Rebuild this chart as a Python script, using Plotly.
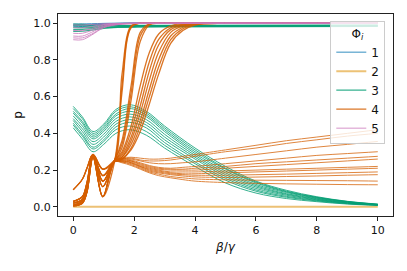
import plotly.graph_objects as go

# ---------------- data ----------------
categories = ["1", "2", "3", "4", "5"]
colors = {"1": "#0173b2", "2": "#de8f05", "3": "#029e73", "4": "#d55e00", "5": "#cc78bc"}

x_ticks = [0, 2, 4, 6, 8, 10]
y_ticks = [0.0, 0.2, 0.4, 0.6, 0.8, 1.0]

# top families (Phi 1, Phi 5, upper Phi 3)
x_top = [0, 0.3, 0.6, 1.0, 1.5, 2.0, 3.0, 10]
p1_lines = [
    [0.995, 0.996, 0.997, 0.999, 1.0, 1.0, 1.0, 1.0],
    [0.988, 0.989, 0.992, 0.996, 0.999, 1.0, 1.0, 1.0],
    [0.98, 0.982, 0.987, 0.994, 0.998, 1.0, 1.0, 1.0],
]
p5_lines = [
    [0.91, 0.91, 0.935, 0.975, 0.993, 0.998, 1.0, 1.0],
    [0.92, 0.92, 0.94, 0.978, 0.994, 0.998, 1.0, 1.0],
    [0.93, 0.93, 0.95, 0.982, 0.995, 0.999, 1.0, 1.0],
    [0.945, 0.945, 0.96, 0.985, 0.996, 0.999, 1.0, 1.0],
    [0.96, 0.96, 0.97, 0.99, 0.997, 1.0, 1.0, 1.0],
    [0.975, 0.975, 0.982, 0.993, 0.998, 1.0, 1.0, 1.0],
    [0.99, 0.99, 0.993, 0.997, 0.999, 1.0, 1.0, 1.0],
]
p3_top_lines = [
    [0.995, 0.993, 0.99, 0.988, 0.988, 0.988, 0.988, 0.99],
    [0.985, 0.985, 0.984, 0.984, 0.985, 0.986, 0.987, 0.988],
    [0.975, 0.976, 0.977, 0.98, 0.982, 0.983, 0.984, 0.986],
    [0.965, 0.966, 0.97, 0.976, 0.979, 0.98, 0.982, 0.984],
    [0.955, 0.956, 0.962, 0.972, 0.977, 0.979, 0.98, 0.982],
]

# Phi 2 (flat at zero)
x_p2 = [0, 10]
p2_line = [0.0, 0.0]

# lower Phi 3 family
x_green = [0, 0.3, 0.65, 1.0, 1.4, 1.85, 2.4, 3.0, 4.0, 5.0, 6.0, 7.0, 8.0, 9.0, 10.0]
p3_low_lines = [
    [0.547, 0.49, 0.41, 0.45, 0.53, 0.556, 0.52, 0.44, 0.32, 0.22, 0.14, 0.09, 0.055, 0.03, 0.015],
    [0.535, 0.48, 0.40, 0.44, 0.52, 0.545, 0.51, 0.43, 0.31, 0.21, 0.135, 0.085, 0.052, 0.029, 0.014],
    [0.52, 0.465, 0.39, 0.43, 0.505, 0.535, 0.50, 0.42, 0.30, 0.205, 0.13, 0.082, 0.05, 0.028, 0.013],
    [0.51, 0.455, 0.38, 0.42, 0.495, 0.52, 0.49, 0.41, 0.29, 0.195, 0.122, 0.078, 0.047, 0.026, 0.012],
    [0.495, 0.44, 0.37, 0.41, 0.48, 0.505, 0.475, 0.395, 0.28, 0.185, 0.115, 0.072, 0.044, 0.024, 0.011],
    [0.48, 0.425, 0.355, 0.395, 0.465, 0.49, 0.46, 0.38, 0.27, 0.175, 0.108, 0.068, 0.041, 0.022, 0.011],
    [0.47, 0.41, 0.34, 0.38, 0.45, 0.475, 0.445, 0.365, 0.26, 0.165, 0.10, 0.063, 0.038, 0.021, 0.01],
    [0.455, 0.395, 0.325, 0.365, 0.435, 0.46, 0.43, 0.35, 0.245, 0.155, 0.092, 0.057, 0.035, 0.019, 0.009],
    [0.445, 0.385, 0.315, 0.355, 0.42, 0.44, 0.41, 0.335, 0.235, 0.145, 0.085, 0.052, 0.032, 0.017, 0.009],
    [0.43, 0.37, 0.30, 0.34, 0.40, 0.42, 0.39, 0.32, 0.22, 0.13, 0.075, 0.045, 0.028, 0.015, 0.008],
]

# Phi 4 families
x_orange = [0, 0.3, 0.45, 0.65, 0.97, 1.35, 1.6, 1.9, 2.2, 2.5, 2.8, 3.2, 3.6, 4.0, 5, 6, 7, 8, 9, 10]
p4_rise_lines = [
    [0.093, 0.15, 0.21, 0.285, 0.205, 0.25, 0.72, 0.985, 1, 1, 1, 1, 1, 1, 1, 1, 1, 1, 1, 1],
    [0.03, 0.055, 0.13, 0.28, 0.17, 0.25, 0.66, 0.98, 1, 1, 1, 1, 1, 1, 1, 1, 1, 1, 1, 1],
    [0.005, 0.02, 0.08, 0.27, 0.055, 0.24, 0.62, 0.975, 1, 1, 1, 1, 1, 1, 1, 1, 1, 1, 1, 1],
    [0.02, 0.04, 0.11, 0.28, 0.14, 0.25, 0.36, 0.66, 0.95, 0.997, 1, 1, 1, 1, 1, 1, 1, 1, 1, 1],
    [0.01, 0.03, 0.10, 0.275, 0.11, 0.25, 0.34, 0.62, 0.93, 0.995, 1, 1, 1, 1, 1, 1, 1, 1, 1, 1],
    [0.03, 0.055, 0.13, 0.28, 0.17, 0.245, 0.32, 0.58, 0.90, 0.99, 1, 1, 1, 1, 1, 1, 1, 1, 1, 1],
    [0.02, 0.04, 0.11, 0.28, 0.14, 0.25, 0.30, 0.44, 0.66, 0.84, 0.94, 0.985, 0.997, 1, 1, 1, 1, 1, 1, 1],
    [0.005, 0.02, 0.08, 0.27, 0.055, 0.25, 0.29, 0.41, 0.60, 0.79, 0.91, 0.975, 0.994, 0.999, 1, 1, 1, 1, 1, 1],
    [0.02, 0.04, 0.11, 0.28, 0.14, 0.25, 0.28, 0.38, 0.55, 0.74, 0.88, 0.965, 0.99, 0.998, 1, 1, 1, 1, 1, 1],
    [0.01, 0.03, 0.10, 0.275, 0.11, 0.25, 0.27, 0.36, 0.51, 0.69, 0.84, 0.95, 0.985, 0.997, 1, 1, 1, 1, 1, 1],
    [0.093, 0.15, 0.21, 0.285, 0.205, 0.25, 0.27, 0.34, 0.47, 0.64, 0.80, 0.93, 0.978, 0.995, 1, 1, 1, 1, 1, 1],
    [0.03, 0.055, 0.13, 0.28, 0.17, 0.25, 0.26, 0.32, 0.44, 0.60, 0.76, 0.91, 0.97, 0.993, 1, 1, 1, 1, 1, 1],
    [0.005, 0.02, 0.08, 0.27, 0.055, 0.245, 0.26, 0.31, 0.41, 0.56, 0.72, 0.89, 0.96, 0.99, 1, 1, 1, 1, 1, 1],
]
p4_low_lines = [
    [0.02, 0.04, 0.11, 0.28, 0.14, 0.245, 0.265, 0.27, 0.265, 0.26, 0.26, 0.265, 0.275, 0.285, 0.31, 0.335, 0.36, 0.38, 0.40, 0.42],
    [0.005, 0.02, 0.08, 0.27, 0.055, 0.245, 0.26, 0.265, 0.255, 0.25, 0.25, 0.255, 0.265, 0.275, 0.30, 0.32, 0.345, 0.365, 0.385, 0.40],
    [0.093, 0.15, 0.21, 0.285, 0.205, 0.245, 0.26, 0.26, 0.25, 0.24, 0.235, 0.235, 0.24, 0.245, 0.265, 0.285, 0.305, 0.325, 0.34, 0.356],
    [0.03, 0.055, 0.13, 0.28, 0.17, 0.245, 0.26, 0.255, 0.24, 0.225, 0.215, 0.21, 0.215, 0.22, 0.235, 0.25, 0.265, 0.28, 0.29, 0.30],
    [0.01, 0.03, 0.10, 0.275, 0.11, 0.245, 0.255, 0.25, 0.235, 0.22, 0.21, 0.205, 0.205, 0.21, 0.22, 0.235, 0.245, 0.255, 0.265, 0.275],
    [0.02, 0.04, 0.11, 0.28, 0.14, 0.245, 0.255, 0.25, 0.23, 0.215, 0.205, 0.2, 0.2, 0.2, 0.21, 0.22, 0.23, 0.24, 0.25, 0.26],
    [0.005, 0.02, 0.08, 0.27, 0.055, 0.245, 0.25, 0.245, 0.225, 0.21, 0.2, 0.19, 0.19, 0.19, 0.195, 0.2, 0.205, 0.21, 0.215, 0.22],
    [0.03, 0.055, 0.13, 0.28, 0.17, 0.245, 0.25, 0.24, 0.22, 0.205, 0.195, 0.185, 0.18, 0.18, 0.185, 0.19, 0.195, 0.2, 0.205, 0.21],
    [0.01, 0.03, 0.10, 0.275, 0.11, 0.245, 0.25, 0.24, 0.22, 0.2, 0.19, 0.18, 0.175, 0.172, 0.172, 0.175, 0.178, 0.182, 0.186, 0.19],
    [0.093, 0.15, 0.21, 0.285, 0.205, 0.245, 0.245, 0.235, 0.215, 0.195, 0.185, 0.175, 0.168, 0.163, 0.16, 0.162, 0.165, 0.168, 0.172, 0.175],
    [0.02, 0.04, 0.11, 0.28, 0.14, 0.245, 0.245, 0.23, 0.21, 0.19, 0.178, 0.165, 0.158, 0.152, 0.147, 0.145, 0.144, 0.143, 0.142, 0.14],
    [0.005, 0.02, 0.08, 0.27, 0.055, 0.245, 0.24, 0.225, 0.205, 0.185, 0.17, 0.158, 0.148, 0.14, 0.132, 0.128, 0.125, 0.123, 0.121, 0.12],
]

# ---------------- figure ----------------
fig = go.Figure()
shown = set()


def add(xs, ys, cat, width=1.0, opacity=0.8):
    show = cat not in shown
    shown.add(cat)
    fig.add_trace(go.Scatter(
        x=xs, y=ys, mode="lines", name=cat, legendgroup=cat, showlegend=show,
        line=dict(color=colors[cat], width=width, shape="spline", smoothing=1.0),
        opacity=opacity, hoverinfo="skip",
    ))


for ys in p1_lines:
    add(x_top, ys, "1")
add(x_p2, p2_line, "2", width=2.0, opacity=0.55)
for ys in p3_top_lines:
    add(x_top, ys, "3", width=1.2)
for ys in p3_low_lines:
    add(x_green, ys, "3")
for ys in p4_rise_lines:
    add(x_orange, ys, "4", width=1.3, opacity=0.85)
for ys in p4_low_lines:
    add(x_orange, ys, "4", width=1.0, opacity=0.75)
for ys in p5_lines:
    add(x_top, ys, "5")

axis_common = dict(
    showline=True, linecolor="#222", linewidth=1, mirror=True,
    ticks="outside", ticklen=4, tickcolor="#222", showgrid=False, zeroline=False,
    tickfont=dict(family="DejaVu Sans", size=11, color="#111"),
)

fig.update_layout(
    width=407, height=271,
    margin=dict(l=58, r=14, t=14, b=55),
    paper_bgcolor="white", plot_bgcolor="white",
    font=dict(family="DejaVu Sans", color="#111"),
    xaxis=dict(range=[-0.5, 10.5], tickvals=x_ticks, ticktext=[str(v) for v in x_ticks],
               title=dict(text="<i>β</i>/<i>γ</i>", font=dict(size=12), standoff=6), **axis_common),
    yaxis=dict(range=[-0.05, 1.05], tickvals=y_ticks, ticktext=[f"{v:.1f}" for v in y_ticks],
               title=dict(text="p", font=dict(size=12), standoff=8), **axis_common),
    legend=dict(
        x=0.977, y=0.965, xanchor="right", yanchor="top",
        bgcolor="rgba(255,255,255,0.8)", bordercolor="#cccccc", borderwidth=1,
        font=dict(family="DejaVu Sans", size=12, color="#111"),
        title=dict(text="Φ<sub><i>i</i></sub>", side="top center", font=dict(size=12)),
        tracegroupgap=0, itemwidth=30,
    ),
    showlegend=True,
)

fig.write_html("out.html", config={"displayModeBar": False},
               post_script="document.body.style.margin='0';")
